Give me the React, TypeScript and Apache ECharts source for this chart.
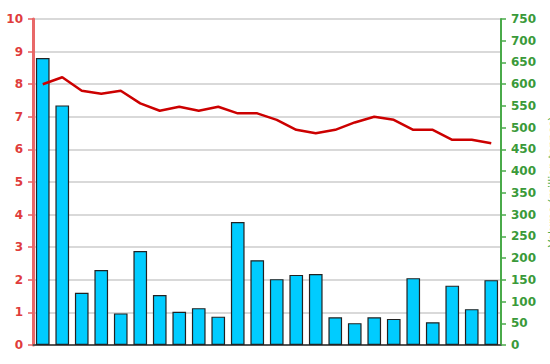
import React, { useEffect, useRef } from "react";
import * as echarts from "echarts";

const categories = Array.from({ length: 24 }, (_, i) => String(i + 1));
const barValues = [8.8, 7.35, 1.6, 2.3, 0.97, 2.88, 1.53, 1.02, 1.13, 0.87, 3.77, 2.6, 2.02, 2.15, 2.18, 0.85, 0.67, 0.85, 0.8, 2.05, 0.7, 1.82, 1.1, 1.99];
const lineValues = [600, 616, 585, 578, 585, 556, 539, 548, 539, 548, 533, 533, 518, 495, 487, 495, 512, 525, 518, 495, 495, 472, 472, 464];
const rightAxisName = "Volume (million tonnes)";

export default function App() {
  const ref = useRef<HTMLDivElement>(null);
  useEffect(() => {
    if (!ref.current) return;
    const chart = echarts.init(ref.current, null, { renderer: "svg" });
    chart.setOption({
      animation: false,
      backgroundColor: "#ffffff",
      grid: { left: 33, right: 49, top: 19, bottom: 19, containLabel: false, outerBoundsMode: "none" },
      xAxis: [
        {
          type: "category",
          data: categories,
          axisLine: { lineStyle: { color: "#333", width: 1.5 } },
          axisTick: { show: false },
          axisLabel: { show: false },
        },
        {
          type: "category",
          data: categories,
          position: "top",
          axisLine: { lineStyle: { color: "#555", width: 2 } },
          axisTick: { show: false },
          axisLabel: { show: false },
        },
      ],
      yAxis: [
        {
          type: "value",
          min: 0,
          max: 10,
          interval: 1,
          position: "left",
          axisLine: { show: true, lineStyle: { color: "#e86868", width: 3 } },
          axisTick: { show: true, length: 5, lineStyle: { color: "#e86060", width: 1.5 } },
          axisLabel: { color: "#e03c3c", fontSize: 12, fontWeight: "bold", fontFamily: "DejaVu Sans", margin: 10 },
          splitLine: { show: true, lineStyle: { color: "#cccccc", width: 1.5 } },
        },
        {
          type: "value",
          min: 0,
          max: 750,
          interval: 50,
          position: "right",
          name: rightAxisName,
          nameLocation: "middle",
          nameRotate: 90,
          nameGap: 42,
          nameTextStyle: { color: "#4aaa4a", fontSize: 11, fontFamily: "DejaVu Sans" },
          axisLine: { show: true, lineStyle: { color: "#4aaa4a", width: 2 } },
          axisTick: { show: true, length: 5, lineStyle: { color: "#4aaa4a", width: 1.5 } },
          axisLabel: { color: "#3a9a3a", fontSize: 12, fontWeight: "bold", fontFamily: "DejaVu Sans", margin: 10 },
          splitLine: { show: false },
        },
      ],
      series: [
        {
          type: "bar",
          data: barValues,
          xAxisIndex: 0,
          yAxisIndex: 0,
          barCategoryGap: "30%",
          itemStyle: { color: "#00ccff", borderColor: "#222222", borderWidth: 1.2 },
        },
        {
          type: "line",
          data: lineValues,
          xAxisIndex: 0,
          yAxisIndex: 1,
          symbol: "none",
          lineStyle: { color: "#cc0000", width: 2.5 },
        },
      ],
    });
    return () => chart.dispose();
  }, []);
  return <div ref={ref} style={{ width: 550, height: 364, position: "absolute", left: 0, top: 0 }} />;
}
